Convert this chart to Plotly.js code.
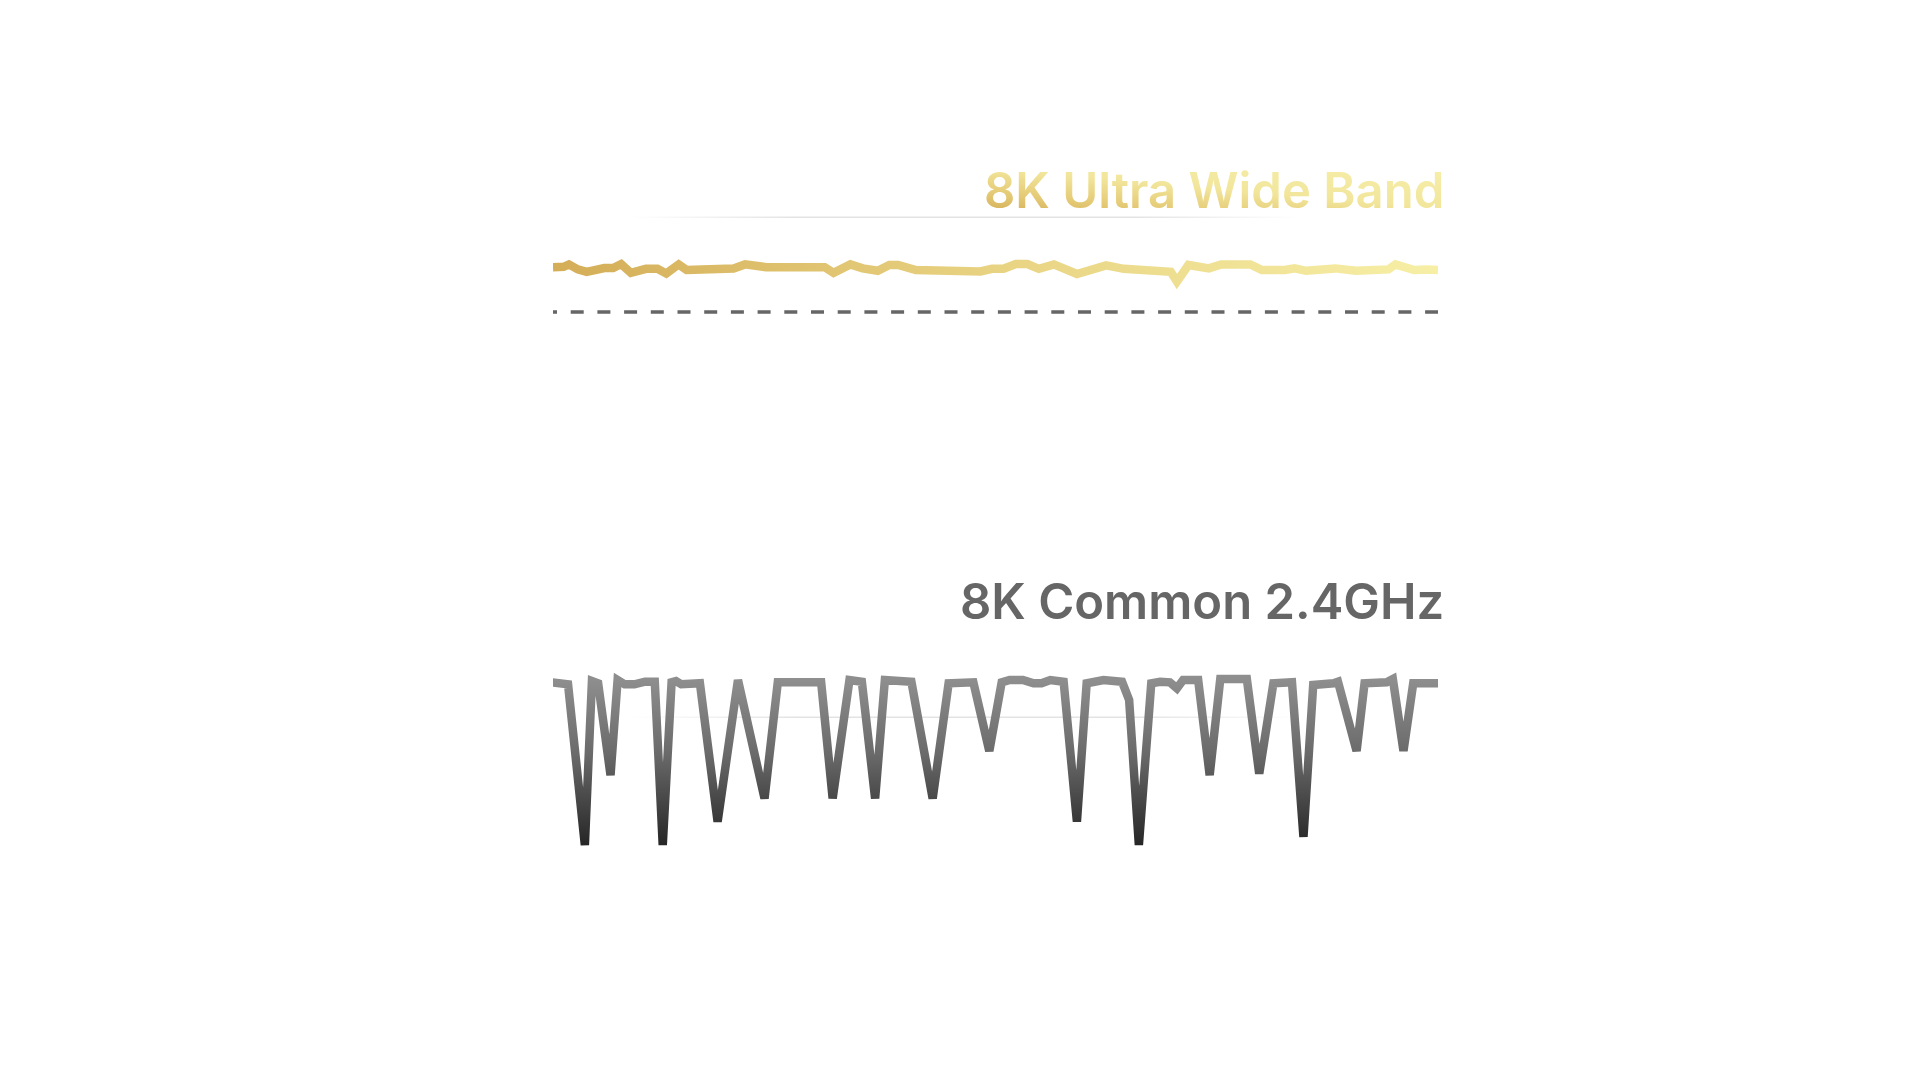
<!DOCTYPE html>
<html>
<head>
<meta charset="utf-8">
<script src="https://cdn.plot.ly/plotly-3.0.1.min.js"></script>
<style>
  html, body { margin: 0; padding: 0; background: #ffffff; }
  #chart { width: 1920px; height: 1080px; }
</style>
</head>
<body>
<div id="chart"></div>
<script>
// polling rate samples (Hz) against time (ms)
var uwbTime = [0, 12, 18, 28, 38, 48, 58, 68, 77, 88, 98, 105, 118, 128, 142, 151, 204, 217, 241, 297,
  307, 317, 336, 350, 367, 380, 390, 410, 476, 483, 496, 509, 523, 536, 549, 556, 566, 592, 605, 625,
  645, 662, 675, 688, 698, 705, 718, 741, 755, 788, 801, 827, 838, 851, 874, 884, 907, 927, 944, 952,
  973, 987, 1000];
var uwbRate = [8004, 8006, 8018, 7993, 7981, 7995, 8000, 8000, 8020, 7976, 7990, 7996, 7996, 7973, 8018, 7990, 7998, 8018, 8004, 7998,
  8004, 7976, 8018, 7998, 7986, 8015, 8015, 7990, 7990, 7983, 7996, 7996, 8020, 8020, 7996, 8004, 8018, 7970, 7990, 8013,
  7996, 7990, 7993, 7990, 7981, 7932, 8015, 7998, 8018, 8018, 7990, 7990, 7998, 7986, 7990, 7998, 7986, 7993, 7993, 8018,
  7990, 7993, 7990];
var uwbRef = 7780;

var stdTime = [-2, 11, 17, 36, 44, 51, 65, 73, 81, 92, 104, 115, 124, 134, 139, 145, 166, 186, 209, 239,
  254, 303, 316, 335, 349, 364, 375, 405, 429, 447, 475, 493, 507, 516, 531, 543, 552, 562, 577, 592,
  603, 622, 643, 651, 662, 676, 686, 697, 705, 712, 729, 742, 754, 784, 798, 814, 829, 835, 848, 859,
  882, 887, 908, 917, 942, 949, 961, 972, 1000];
var stdRate = [7980, 7980, 7930, 4000, 8012, 7956, 5710, 8037, 7932, 7932, 7995, 7995, 4000, 7980, 8012, 7932, 7956, 4570, 8037, 5140,
  7980, 7980, 5140, 8037, 7995, 5140, 8037, 7995, 5140, 7956, 7980, 6300, 7980, 8037, 8037, 7956, 7956, 8037, 7995, 4570,
  7956, 8037, 7995, 7550, 4000, 7956, 7995, 7980, 7834, 8037, 8037, 5710, 8061, 8061, 5745, 7956, 7995, 7980, 4200, 7914,
  7956, 7995, 6300, 7956, 7980, 8061, 6300, 7956, 7956];

var titles = ['8K Ultra Wide Band', '8K Common 2.4GHz'];

var W = 1920, H = 1080;
// paper domain from pixel rows (top, bottom)
var ydom = function (top, bottom) { return [1 - bottom / H, 1 - top / H]; };

var trace_uwb = {
  x: uwbTime, y: uwbRate,
  xaxis: 'x', yaxis: 'y',
  type: 'scatter', mode: 'lines',
  line: {color: '#e6cf7c', width: 8.5, shape: 'linear'},
  cliponaxis: false,
  hoverinfo: 'skip'
};
var trace_std = {
  x: stdTime, y: stdRate,
  xaxis: 'x', yaxis: 'y2',
  type: 'scatter', mode: 'lines',
  line: {color: '#666666', width: 8.5, shape: 'linear'},
  cliponaxis: false,
  hoverinfo: 'skip'
};

var hidden = {showgrid: false, zeroline: false, showticklabels: false, showline: false, ticks: '', fixedrange: true};

var layout = {
  width: W, height: H,
  margin: {l: 0, r: 0, t: 0, b: 0},
  paper_bgcolor: '#ffffff', plot_bgcolor: 'rgba(0,0,0,0)',
  showlegend: false, hovermode: false,
  xaxis: Object.assign({domain: [553 / W, 1438 / W], range: [0, 1000]}, hidden),
  yaxis: Object.assign({domain: ydom(240, 330), range: [7690, 8140]}, hidden),
  yaxis2: Object.assign({domain: ydom(660, 870), range: [3389, 8526], anchor: 'x'}, hidden),
  shapes: [
    // faint dividers, faded at both ends after drawing
    {type: 'rect', xref: 'paper', yref: 'paper', x0: 630 / W, x1: 1300 / W, y0: 1 - 218 / H, y1: 1 - 216.5 / H,
     fillcolor: '#e3e3e3', line: {width: 0}, layer: 'below'},
    {type: 'rect', xref: 'paper', yref: 'paper', x0: 630 / W, x1: 1300 / W, y0: 1 - 718 / H, y1: 1 - 716.5 / H,
     fillcolor: '#e3e3e3', line: {width: 0}, layer: 'below'},
    // reference line under the UWB trace
    {type: 'line', xref: 'x', yref: 'y', x0: uwbTime[0], x1: uwbTime[uwbTime.length - 1], y0: uwbRef, y1: uwbRef,
     line: {color: '#666666', width: 3.5, dash: 'dash'}, layer: 'below'}
  ],
  annotations: [
    {text: titles[0], xref: 'paper', yref: 'paper', x: 1446 / W, y: 1 - 190 / H,
     xanchor: 'right', yanchor: 'middle', showarrow: false,
     font: {family: 'Inter, "Open Sans", sans-serif', size: 49, weight: 600, color: '#ecd98a'}},
    {text: titles[1], xref: 'paper', yref: 'paper', x: 1446 / W, y: 1 - 601 / H,
     xanchor: 'right', yanchor: 'middle', showarrow: false,
     font: {family: 'Inter, "Open Sans", sans-serif', size: 49, weight: 600, color: '#666666'}}
  ]
};

var NS = 'http://www.w3.org/2000/svg';
var addGradient = function (defs, id, coords, stops) {
  var g = document.createElementNS(NS, 'linearGradient');
  g.setAttribute('id', id);
  for (var k in coords) g.setAttribute(k, coords[k]);
  stops.forEach(function (s) {
    var st = document.createElementNS(NS, 'stop');
    st.setAttribute('offset', s[0]);
    st.setAttribute('stop-color', s[1]);
    if (s.length > 2) st.setAttribute('stop-opacity', s[2]);
    g.appendChild(st);
  });
  defs.appendChild(g);
};

Plotly.newPlot('chart', [trace_uwb, trace_std], layout, {displayModeBar: false, staticPlot: true}).then(function (gd) {
  var svg = gd.querySelector('svg.main-svg');
  var defs = svg.querySelector('defs') || svg.insertBefore(document.createElementNS(NS, 'defs'), svg.firstChild);

  addGradient(defs, 'goldLine', {x1: 0, y1: 0, x2: 1, y2: 0},
    [[0, '#d4ad57'], [0.5, '#e8d382'], [1, '#f7efa6']]);
  addGradient(defs, 'greyLine', {x1: 0, y1: 0, x2: 0, y2: 1},
    [[0, '#8e8e8e'], [0.45, '#6a6a6a'], [1, '#262626']]);
  addGradient(defs, 'goldText', {x1: 0, y1: 1, x2: 0.7, y2: 0},
    [[0, '#cda34c'], [0.3, '#e4c974'], [0.6, '#f2e69c'], [1, '#f6eda8']]);
  addGradient(defs, 'fade', {x1: 0, y1: 0, x2: 1, y2: 0},
    [[0, '#e3e3e3', 0], [0.25, '#e3e3e3', 1], [0.75, '#e3e3e3', 1], [1, '#e3e3e3', 0]]);

  var lines = gd.querySelectorAll('.scatterlayer .trace path.js-line');
  if (lines[0]) lines[0].style.stroke = 'url(#goldLine)';
  if (lines[1]) lines[1].style.stroke = 'url(#greyLine)';

  var txt = gd.querySelectorAll('.annotation-text');
  if (txt[0]) txt[0].style.fill = 'url(#goldText)';

  var shp = gd.querySelectorAll('.shapelayer path');
  shp.forEach(function (p) {
    var i = p.getAttribute('data-index');
    if (i === '0' || i === '1') p.style.fill = 'url(#fade)';
    if (i === '2') {
      // short stub at the start, full dash at the end
      p.style.strokeDasharray = '13px, 13.7px';
      p.style.strokeDashoffset = '9px';
    }
  });
});
</script>
</body>
</html>
